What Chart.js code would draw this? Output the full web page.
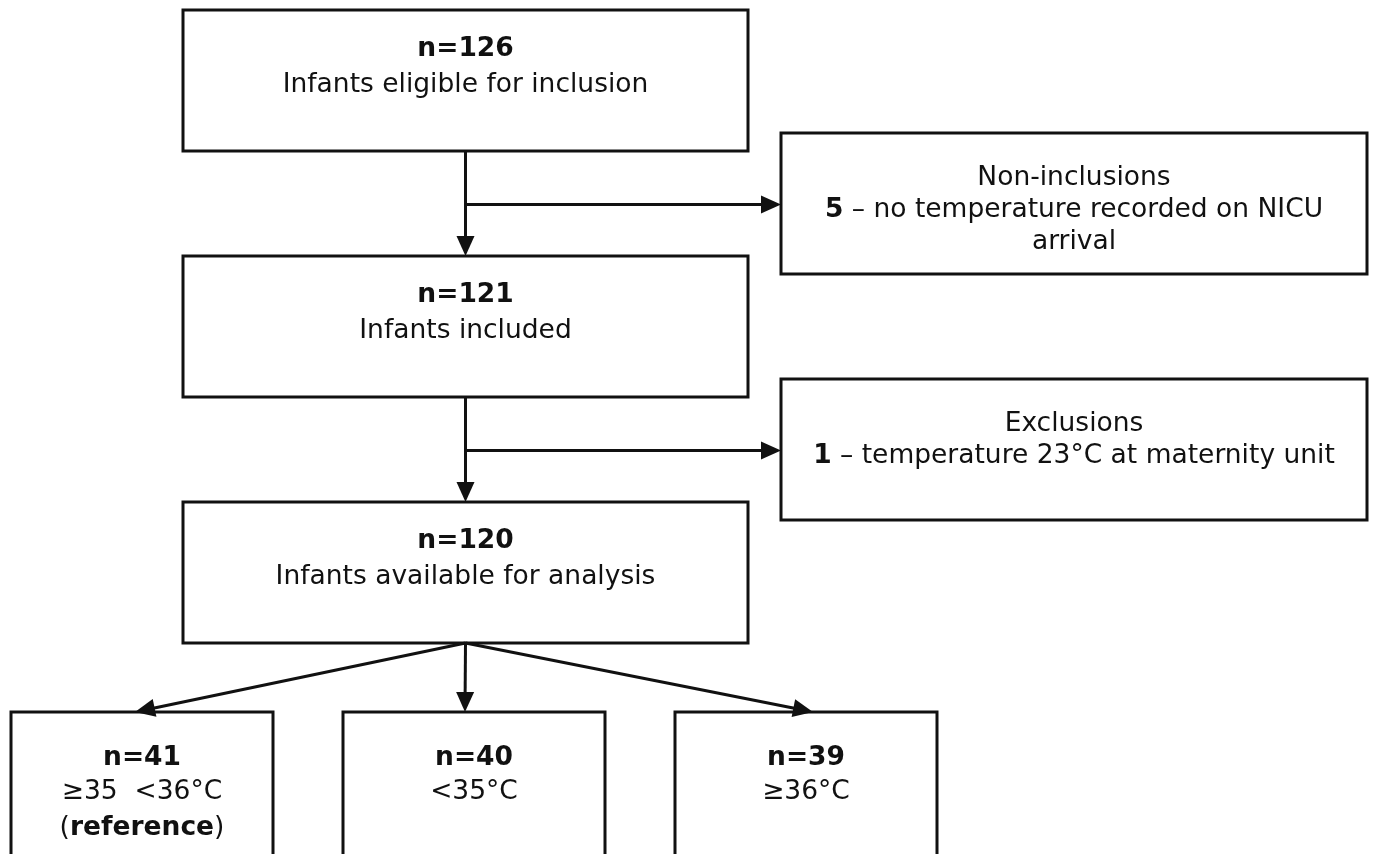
<!DOCTYPE html>
<html>
<head>
<meta charset="utf-8">
<script src="https://cdn.jsdelivr.net/npm/chart.js@4"></script>
<style>
  html, body { margin: 0; padding: 0; background: #fff; }
  #wrap { width: 1383px; height: 854px; }
</style>
</head>
<body>
<div id="wrap"><canvas id="flowChart"></canvas></div>
<script>
// flow data
const stageCounts = [126, 121, 120];
const stageLabels = ['Infants eligible for inclusion', 'Infants included', 'Infants available for analysis'];
const dropTitles = ['Non-inclusions', 'Exclusions'];
const dropCounts = [5, 1];
const dropReasons = ['no temperature recorded on NICU arrival', 'temperature 23°C at maternity unit'];
const groupCounts = [41, 40, 39];
const groupLabels = ['≥35  <36°C', '<35°C', '≥36°C'];
const groupNotes = ['reference', '', ''];

// layout in scale units (x: 0..1383, y: 0..854 downwards)
const stageBox = { x0: 183, x1: 748, tops: [10, 256, 502], h: 141 };
const dropBox = { x0: 781, x1: 1367, tops: [133, 379], h: 141 };
const groupBox = { lefts: [11, 343, 675], w: 262, top: 712, bottom: 858 };
const FONT = '"DejaVu Sans", sans-serif';
const FS = 26.5;

function setFont(ctx, bold) {
  ctx.font = (bold ? 'bold ' : '') + FS + 'px ' + FONT;
}

function drawRuns(ctx, runs, cx, y) {
  let total = 0;
  runs.forEach(r => {
    setFont(ctx, r.b);
    r.w = ctx.measureText(r.t).width;
    total += r.w;
  });
  let x = cx - total / 2;
  runs.forEach(r => {
    setFont(ctx, r.b);
    ctx.fillText(r.t, x, y);
    x += r.w;
  });
}

function wrapRuns(ctx, runs, maxW) {
  const words = [];
  runs.forEach(r => r.t.split(' ').forEach(w => {
    if (w !== '') words.push({ t: w, b: r.b });
  }));
  const lines = [];
  let cur = [], curW = 0;
  words.forEach(w => {
    setFont(ctx, w.b);
    let t = (cur.length ? ' ' : '') + w.t;
    if (cur.length && curW + ctx.measureText(t).width > maxW) {
      lines.push(cur); cur = []; curW = 0;
      t = w.t;
    }
    curW += ctx.measureText(t).width;
    cur.push({ t: t, b: w.b });
  });
  if (cur.length) lines.push(cur);
  return lines;
}

function arrow(ctx, x0, y0, x1, y1) {
  const a = Math.atan2(y1 - y0, x1 - x0);
  const len = 20, half = 9;
  ctx.beginPath();
  ctx.moveTo(x0, y0);
  ctx.lineTo(x1 - 10 * Math.cos(a), y1 - 10 * Math.sin(a));
  ctx.stroke();
  ctx.beginPath();
  ctx.moveTo(x1, y1);
  ctx.lineTo(x1 - len * Math.cos(a) + half * Math.sin(a), y1 - len * Math.sin(a) - half * Math.cos(a));
  ctx.lineTo(x1 - len * Math.cos(a) - half * Math.sin(a), y1 - len * Math.sin(a) + half * Math.cos(a));
  ctx.closePath();
  ctx.fill();
}

const flowPlugin = {
  id: 'flow',
  afterDraw(chart) {
    const ctx = chart.ctx;
    const sx = v => chart.scales.x.getPixelForValue(v);
    const sy = v => chart.scales.y.getPixelForValue(v);
    ctx.save();
    ctx.strokeStyle = '#111';
    ctx.fillStyle = '#111';
    ctx.lineWidth = 3;
    ctx.textBaseline = 'middle';

    const rect = (x0, y0, x1, y1) => {
      ctx.strokeRect(sx(x0), sy(y0), sx(x1) - sx(x0), sy(y1) - sy(y0));
    };

    // main stages
    const midX = (stageBox.x0 + stageBox.x1) / 2;
    stageCounts.forEach((n, i) => {
      const t = stageBox.tops[i];
      rect(stageBox.x0, t, stageBox.x1, t + stageBox.h);
      drawRuns(ctx, [{ t: 'n=' + n, b: true }], sx(midX), sy(t + 39));
      drawRuns(ctx, [{ t: stageLabels[i], b: false }], sx(midX), sy(t + 39) + 36);
    });

    // exclusion boxes
    const dropMid = (dropBox.x0 + dropBox.x1) / 2;
    dropCounts.forEach((n, i) => {
      const t = dropBox.tops[i];
      rect(dropBox.x0, t, dropBox.x1, t + dropBox.h);
      const lines = [[{ t: dropTitles[i], b: false }]].concat(
        wrapRuns(ctx, [{ t: String(n), b: true }, { t: ' – ' + dropReasons[i], b: false }],
          sx(dropBox.x1) - sx(dropBox.x0) - 40));
      lines.forEach((ln, k) => drawRuns(ctx, ln, sx(dropMid), sy(t + 45) + k * 32));
    });

    // arrows between stages
    for (let i = 0; i < stageCounts.length - 1; i++) {
      const yb = stageBox.tops[i] + stageBox.h;
      const yt = stageBox.tops[i + 1];
      arrow(ctx, sx(midX), sy(yb), sx(midX), sy(yt));
      const ym = (yb + yt) / 2 + 1;
      arrow(ctx, sx(midX), sy(ym), sx(dropBox.x0), sy(ym));
    }

    // group boxes
    const srcY = stageBox.tops[2] + stageBox.h;
    const arrowEnds = [135, 465, 813];
    groupCounts.forEach((n, i) => {
      const l = groupBox.lefts[i];
      rect(l, groupBox.top, l + groupBox.w, groupBox.bottom);
      const cx = sx(l + groupBox.w / 2);
      const y0 = sy(groupBox.top + 46);
      drawRuns(ctx, [{ t: 'n=' + n, b: true }], cx, y0);
      drawRuns(ctx, [{ t: groupLabels[i], b: false }], cx, y0 + 34);
      if (groupNotes[i]) {
        drawRuns(ctx, [{ t: '(', b: false }, { t: groupNotes[i], b: true }, { t: ')', b: false }], cx, y0 + 70);
      }
      arrow(ctx, sx(midX), sy(srcY), sx(arrowEnds[i]), sy(groupBox.top));
    });
    ctx.restore();
  }
};

new Chart(document.getElementById('flowChart').getContext('2d'), {
  type: 'scatter',
  data: { datasets: [{ data: [], pointRadius: 0 }] },
  options: {
    responsive: true,
    maintainAspectRatio: false,
    animation: false,
    layout: { padding: 0 },
    plugins: { legend: { display: false }, tooltip: { enabled: false } },
    scales: {
      x: { type: 'linear', min: 0, max: 1383, display: false },
      y: { type: 'linear', min: 0, max: 854, reverse: true, display: false }
    }
  },
  plugins: [flowPlugin]
});
</script>
</body>
</html>
